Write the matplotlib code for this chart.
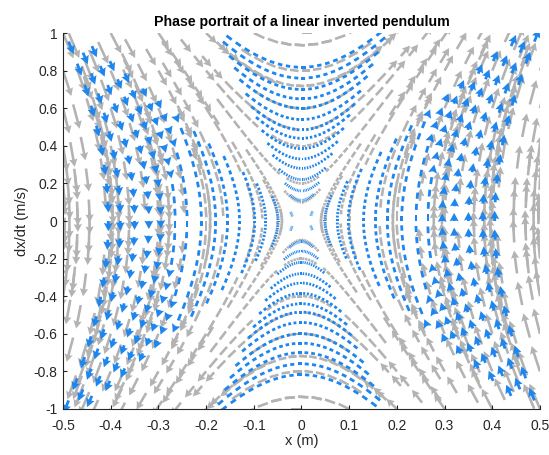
import numpy as np
import matplotlib.pyplot as plt

plt.rcParams['font.family'] = ['Liberation Sans', 'DejaVu Sans']

# linear inverted pendulum: xdd = (g / zc) * x
g = 9.81
zc = 0.8

# vertices of the blue trajectories
blue_x0 = [0.018, 0.049, 0.075, 0.098, 0.13, 0.155, 0.18, 0.21, 0.24,
           0.265, 0.295, 0.32, 0.35, 0.38, 0.405]
blue_v0 = [0.035, 0.11, 0.16, 0.22, 0.28, 0.33, 0.385, 0.44, 0.485,
           0.54, 0.60, 0.65, 0.70, 0.76, 0.818]

# grid of starting states for the grey field
gray_x0 = [-0.5, -0.4, -0.3, -0.2, -0.1, 0.0, 0.1, 0.2, 0.3, 0.4, 0.5]
gray_v0 = [-1.0, -0.8, -0.6, -0.4, -0.2, 0.0, 0.2, 0.4, 0.6, 0.8, 1.0]
# a few extra grey states close to the saddle
inner_x0 = [-0.05, 0.0, 0.05]
inner_v0 = [-0.1, 0.0, 0.1]

xlim = (-0.5, 0.5)
ylim = (-1.0, 1.0)

BLUE = '#1f86ee'
GRAY = '#b3b3b3'

w = np.sqrt(g / zc)


def traj(x0, v0, t):
    x = x0 * np.cosh(w * t) + v0 / w * np.sinh(w * t)
    v = x0 * w * np.sinh(w * t) + v0 * np.cosh(w * t)
    return x, v


def collect(starts, t, k):
    X, V, U, A = [], [], [], []
    for x0, v0 in starts:
        x, v = traj(x0, v0, t)
        X.append(x); V.append(v)
        U.append(k * v); A.append(k * w**2 * x)
    X = np.concatenate(X); V = np.concatenate(V)
    U = np.concatenate(U); A = np.concatenate(A)
    ok = (X >= xlim[0] - 1e-9) & (X <= xlim[1] + 1e-9) & \
         (V >= ylim[0] - 1e-9) & (V <= ylim[1] + 1e-9)
    return X[ok], V[ok], U[ok], A[ok]


def draw(ax, X, V, U, A, color, lw, head_px, z):
    # pixel length of every arrow, so that only long ones get a head
    sx = 477 / (xlim[1] - xlim[0])
    sy = 376 / (ylim[1] - ylim[0])
    L = np.hypot(U * sx, A * sy)
    keep = L > 0.5
    long_ = L > head_px
    short = keep & ~long_
    common = dict(angles='xy', scale_units='xy', scale=1, color=color,
                  units='dots', width=lw, zorder=z, minshaft=0.1, minlength=0.1)
    ax.quiver(X[short], V[short], U[short], A[short],
              headwidth=0, headlength=0, headaxislength=0, **common)
    ax.quiver(X[long_], V[long_], U[long_], A[long_],
              headwidth=3.2, headlength=3.0, headaxislength=2.7, **common)


fig = plt.figure(figsize=(5.49, 4.55), dpi=100)
ax = fig.add_axes([63 / 549, 1 - 409 / 455, 477 / 549, 376 / 455])

# grey field: short runs through every grid state
t_gray = np.arange(-0.15, 0.1501, 0.03)
starts = [(a, b) for a in gray_x0 for b in gray_v0]
X, V, U, A = collect(starts, t_gray, 0.022)
draw(ax, X, V, U, A, GRAY, 2.6, 12, 1)

t_inner = np.arange(-0.3, 0.3001, 0.03)
starts = [(a, b) for a in inner_x0 for b in inner_v0]
X, V, U, A = collect(starts, t_inner, 0.022)
draw(ax, X, V, U, A, GRAY, 2.6, 12, 1)

# blue trajectories through the vertices
t_blue = np.arange(-0.2, 0.2001, 0.02)
starts = [(s * a, 0.0) for a in blue_x0 for s in (-1, 1)]
starts += [(0.0, s * b) for b in blue_v0 for s in (-1, 1)]
X, V, U, A = collect(starts, t_blue, 0.011)
draw(ax, X, V, U, A, BLUE, 2.8, 7, 2)

ax.set_xlim(*xlim)
ax.set_ylim(*ylim)
ax.set_xticks(np.arange(-0.5, 0.51, 0.1))
ax.set_yticks(np.arange(-1, 1.01, 0.2))
ax.set_xticklabels(['-0.5', '-0.4', '-0.3', '-0.2', '-0.1', '0', '0.1', '0.2', '0.3', '0.4', '0.5'])
ax.set_yticklabels(['-1', '-0.8', '-0.6', '-0.4', '-0.2', '0', '0.2', '0.4', '0.6', '0.8', '1'])
ax.spines['top'].set_visible(False)
ax.spines['right'].set_visible(False)
for s in ('left', 'bottom'):
    ax.spines[s].set_color('#262626')
    ax.spines[s].set_linewidth(0.8)
ax.tick_params(direction='in', length=3, labelsize=10, colors='#262626')
ax.tick_params(axis='x', pad=7)
ax.tick_params(axis='y', pad=4)
ax.set_xlabel('x (m)', fontsize=10.5, color='#262626', labelpad=1)
ax.set_ylabel('dx/dt (m/s)', fontsize=10.5, color='#262626', labelpad=3)
ax.set_title('Phase portrait of a linear inverted pendulum', fontsize=10.2,
             fontweight='bold', pad=5)

fig.savefig('out.png', dpi=100)
